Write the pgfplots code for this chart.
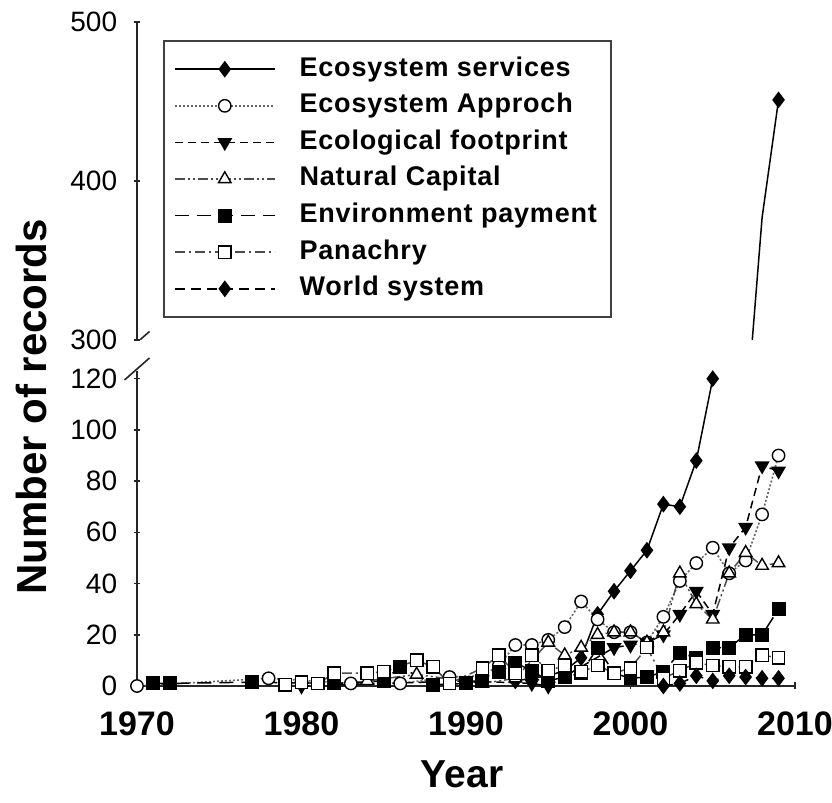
\documentclass[border=0pt]{standalone}
\usepackage{fontspec}
\setmainfont{Liberation Sans}
\newfontfamily\legendfont{Liberation Sans}[LetterSpace=3]
\usepackage{pgfplots}
\pgfplotsset{compat=1.18}

% series styles
\pgfplotsset{
  es/.style={black, line width=0.75pt, solid, mark=diamond*, mark size=3.6pt,
    mark options={solid, fill=black}},
  ea/.style={black!60, line width=0.8pt, dash pattern=on 1pt off 1pt, mark=*, mark size=3.1pt,
    mark options={solid, draw=black, fill=white, line width=0.7pt}},
  ef/.style={black, line width=0.75pt, dash pattern=on 4pt off 2.5pt, mark=triangle*, mark size=3.6pt,
    mark options={solid, fill=black, rotate=180}},
  nc/.style={black!70, line width=0.75pt, dash pattern=on 5pt off 1.5pt on 1pt off 1.5pt on 1pt off 1.5pt,
    mark=triangle*, mark size=3.6pt, mark options={solid, draw=black, fill=white, line width=0.7pt}},
  ep/.style={black, line width=0.75pt, dash pattern=on 7pt off 4pt, mark=square*, mark size=3.1pt,
    mark options={solid, fill=black}},
  pa/.style={black!70, line width=0.75pt, dash pattern=on 5pt off 2pt on 1pt off 2pt, mark=square*, mark size=3.1pt,
    mark options={solid, draw=black, fill=white, line width=0.7pt}},
  ws/.style={black, line width=0.75pt, dash pattern=on 5pt off 3pt, mark=diamond*, mark size=3.6pt,
    mark options={solid, fill=black}},
  common/.style={
    scale only axis, width=329pt,
    xmin=1970, xmax=2010,
    tick style={black!85, line width=0.8pt},
    tick align=outside, major tick length=3.5pt,
    /pgf/number format/assume math mode=true,
    yticklabel style={font=\fontsize{14}{16}\selectfont, inner sep=0pt, anchor=east, xshift=-8pt},
  },
}

\begin{document}
\begin{tikzpicture}
% lower panel: 0 to 120 records
\begin{axis}[common,
  at={(68.5pt,58.5pt)}, anchor=south west, height=157.5pt,
  axis lines=left,
  axis line style={-, black!85, line width=0.8pt},
  every outer x axis line/.append style={-},
  every outer y axis line/.append style={-},
  ymin=0, ymax=123, ytick={0,20,...,120},
  xtick={1970,1980,...,2010}, xticklabels={1970,1980,1990,2000,2010},
  xticklabel style={font=\bfseries\fontsize{17}{19}\selectfont, inner sep=0pt, anchor=north, yshift=-11pt},
  clip=false,
  legend style={at={(0.0395,2.051)}, anchor=north west, draw=black!75, line width=1pt,
    font=\legendfont\bfseries\fontsize{13.5}{15}\selectfont,
    inner xsep=5pt, inner ysep=5pt, row sep=0pt, column sep=10pt,
    nodes={text height=9.8pt, text depth=3pt, inner ysep=2.75pt, inner xsep=2pt},
    cells={anchor=west}},
  legend image code/.code={\draw[mark repeat=2, mark phase=2]
    plot coordinates {(0pt,0pt) (25pt,0pt) (50pt,0pt)};},
]
\addplot[es] coordinates {
  (1993,2) (1994,3) (1995,4) (1996,6) (1997,11) (1998,28) (1999,37) (2000,45)
  (2001,53) (2002,71) (2003,70) (2004,88) (2005,120)};
\addlegendentry{Ecosystem services}
\addplot[ea] coordinates {
  (1970,0) (1978,3) (1983,1) (1986,1) (1989,3.5) (1991,4) (1992,8) (1993,16)
  (1994,16) (1995,18) (1996,23) (1997,33) (1998,26) (1999,21) (2000,21) (2001,17)
  (2002,27) (2003,41) (2004,48) (2005,54) (2006,44) (2007,49) (2008,67) (2009,90)};
\addlegendentry{Ecosystem Approch}
\addplot[ef] coordinates {
  (1980,0) (1990,2) (1994,1) (1995,0) (1999,15) (2000,16) (2001,17) (2002,20)
  (2003,28) (2004,37) (2005,28) (2006,54) (2007,62) (2008,86) (2009,84)};
\addlegendentry{Ecological footprint}
\addplot[nc] coordinates {
  (1984,2) (1987,4.5) (1991,1) (1993,3) (1995,17) (1996,12) (1997,15) (1998,20)
  (1999,21) (2000,21) (2001,17) (2002,21) (2003,44) (2004,32) (2005,26) (2006,44)
  (2007,52) (2008,47) (2009,48)};
\addlegendentry{Natural Capital}
\addplot[ep] coordinates {
  (1971,1) (1972,1) (1977,1.5) (1982,1) (1985,2) (1986,7.5) (1988,0.5) (1990,1)
  (1991,2) (1992,5.5) (1993,9) (1994,6) (1995,2) (1996,3.5) (1997,5) (1998,15)
  (1999,5) (2000,3) (2001,3.5) (2002,5.5) (2003,13) (2004,11) (2005,15) (2006,15)
  (2007,20) (2008,20) (2009,30)};
\addlegendentry{Environment payment}
\addplot[pa] coordinates {
  (1979,0.5) (1980,1.5) (1981,1) (1982,5) (1984,5) (1985,5.5) (1987,10) (1988,7.5)
  (1989,1) (1991,7) (1992,12) (1993,5) (1994,12) (1995,6) (1996,8) (1997,5.5)
  (1998,8) (1999,5) (2000,7) (2001,15) (2002,3) (2003,6) (2004,9) (2005,8)
  (2006,7.5) (2007,7.5) (2008,12) (2009,11)};
\addlegendentry{Panachry}
\addplot[ws] coordinates {
  (2002,0) (2003,1) (2004,4) (2005,2) (2006,4) (2007,3.5) (2008,3) (2009,3)};
\addlegendentry{World system}
% axis break mark
\draw[black!85, line width=0.8pt] (rel axis cs:0,1) ++(-6.25pt,-4.5pt) -- ++(12.5pt,11pt);
\end{axis}

% upper panel: 300 to 500 records
\begin{axis}[common,
  at={(68.5pt,231.5pt)}, anchor=south west, height=159pt,
  axis x line=none, axis y line=left,
  axis line style={-, black!85, line width=0.8pt},
  every outer y axis line/.append style={-},
  ymin=300, ymax=500, ytick={300,400,500},
]
\addplot[es, mark indices={2,3}] coordinates {(2007,248) (2008,377) (2009,451)};
\draw[black!85, line width=0.8pt] (rel axis cs:0,0) ++(-6.25pt,-6.75pt) -- ++(12.5pt,11pt);
\end{axis}

\node[rotate=90, font=\bfseries\fontsize{21}{24}\selectfont] at (15.5pt,198pt) {Number of records};
\node[anchor=base, font=\bfseries\fontsize{19.5}{22}\selectfont] at (231pt,7.5pt) {Year};

% page frame
\pgfresetboundingbox
\path[use as bounding box] (0,0) rectangle (416pt,401.5pt);
\end{tikzpicture}
\end{document}
